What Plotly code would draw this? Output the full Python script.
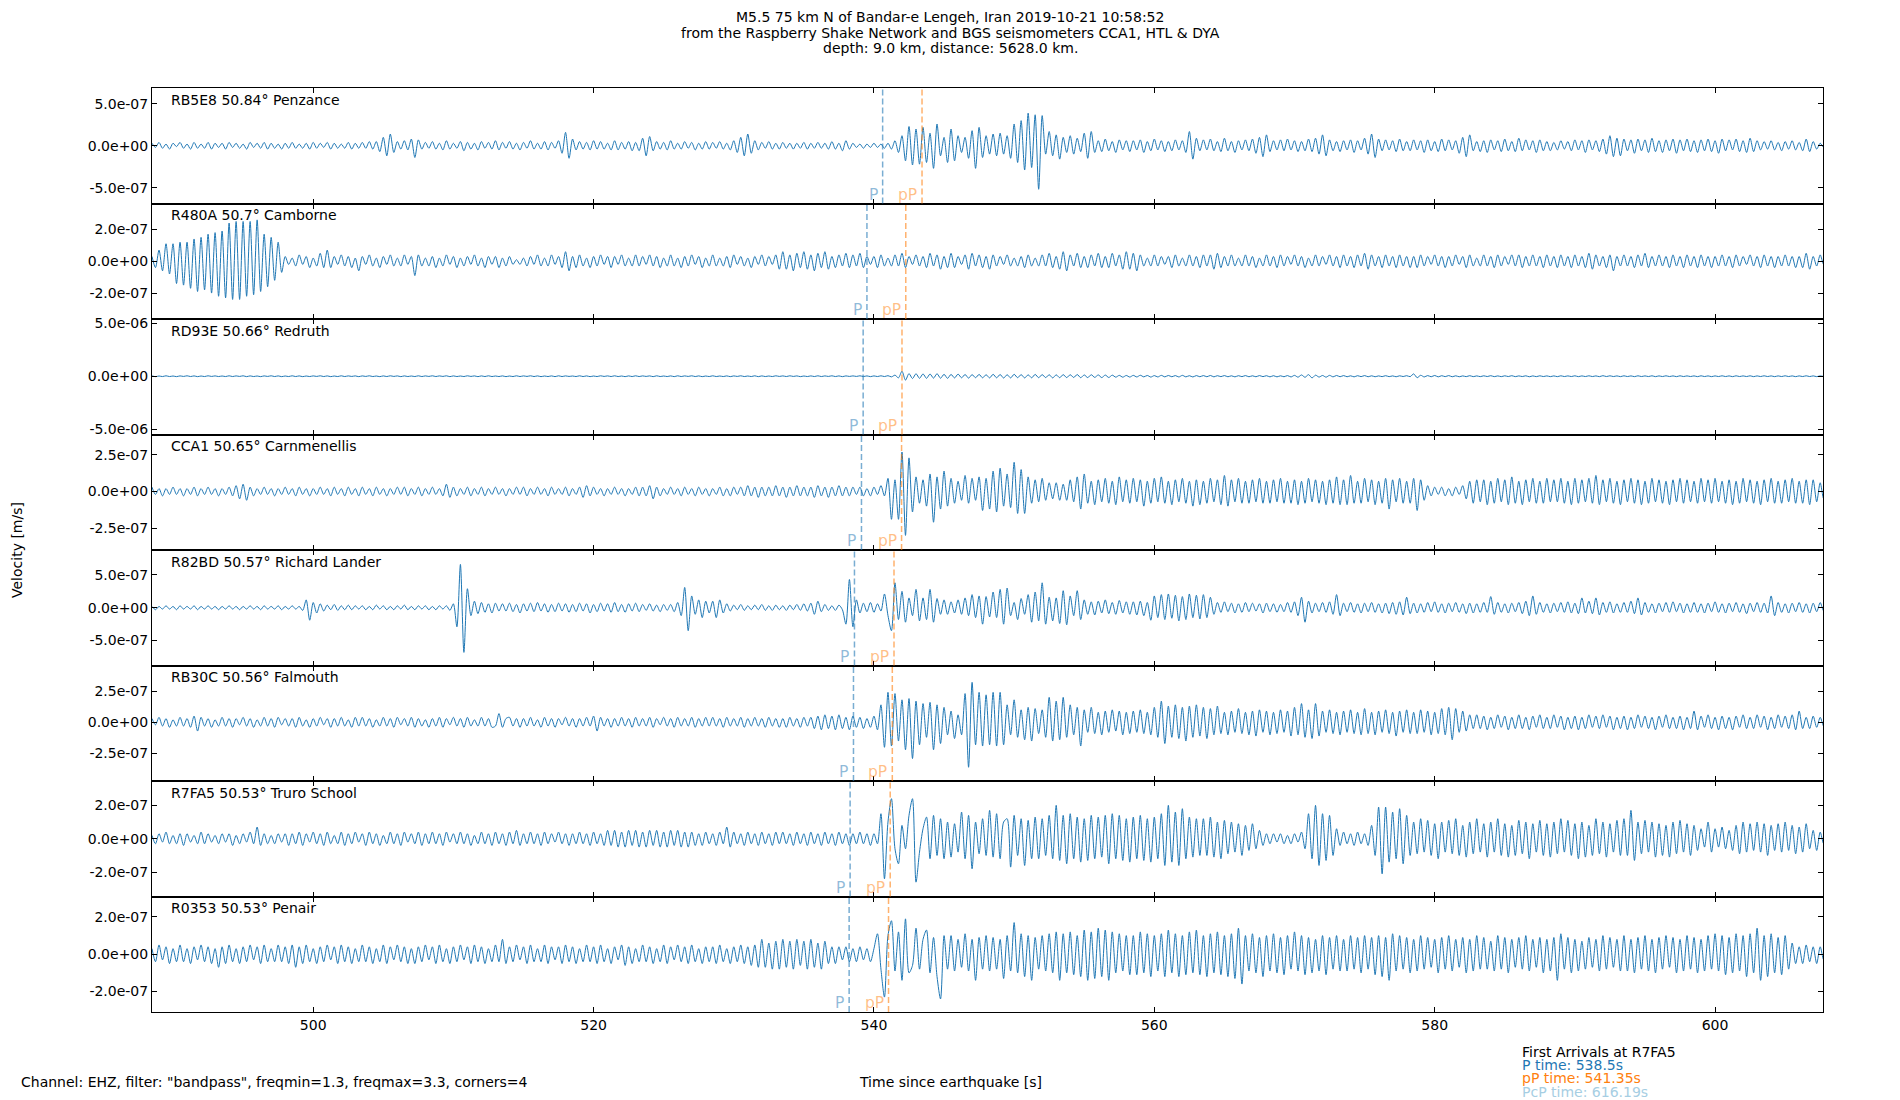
import numpy as np
import plotly.graph_objects as go
from plotly.subplots import make_subplots

# time axis of the traces, seconds since the earthquake
T0 = 488.5
DT = 0.25

stations = ['RB5E8', 'R480A', 'RD93E', 'CCA1', 'R82BD', 'RB30C', 'R7FA5', 'R0353']
distances = ['50.84', '50.7', '50.66', '50.65', '50.57', '50.56', '50.53', '50.53']
places = ['Penzance', 'Camborne', 'Redruth', 'Carnmenellis', 'Richard Lander',
          'Falmouth', 'Truro School', 'Penair']

# arrival times as drawn on each panel [s]
p_times = [540.62, 539.5, 539.23, 539.11, 538.61, 538.54, 538.3, 538.23]
pp_times = [543.43, 542.27, 542.0, 541.97, 541.43, 541.31, 541.16, 541.04]

# y limits and ticks [m/s]
y_limits = [(-6.9e-7, 6.9e-7), (-3.63e-7, 3.63e-7), (-5.5e-6, 5.4e-6), (-4.0e-7, 3.9e-7),
            (-8.8e-7, 8.8e-7), (-4.7e-7, 4.55e-7), (-3.46e-7, 3.46e-7), (-3.1e-7, 3.1e-7)]
y_ticks = [5e-7, 2e-7, 5e-6, 2.5e-7, 5e-7, 2.5e-7, 2e-7, 2e-7]

# velocity samples in units of 1e-8 m/s, one row = 5 s
rb5e8 = [
    3, -2, 4, -3, 2, -4, 3, -1, 4, -3, 2, -4, 4, -3, 2, -3, 4, -4, 3, -2,
    3, -4, 4, -2, 3, -3, 2, -4, 4, -2, 3, -3, 4, -4, 3, -3, 2, -4, 3, -3,
    4, -3, 2, -3, 3, -4, 4, -3, 3, -2, 4, -4, 3, -3, 2, -3, 4, -4, 3, -3,
    4, -3, 5, -4, 5, -7, 10, -12, 14, -8, 5, -4, 6, -5, 8, -14, 7, -4, 4, -3,
    5, -4, 3, -5, 6, -4, 3, -3, 5, -6, 4, -4, 3, -5, 5, -3, 4, -4, 6, -5,
    4, -3, 5, -4, 3, -5, 4, -3, 6, -4, 3, -4, 5, -5, 4, -3, 6, -9, 16, -15,
    8, -5, 5, -4, 4, -5, 6, -4, 5, -4, 3, -5, 6, -5, 4, -4, 5, -6, 4, -6,
    9, -12, 11, -6, 5, -4, 4, -5, 6, -4, 3, -4, 5, -3, 4, -5, 3, -4, 5, -4,
    4, -3, 5, -4, 3, -5, 6, -8, 10, -12, 14, -9, 6, -5, 4, -3, 5, -4, 3, -4,
    4, -3, 3, -4, 3, -3, 4, -4, 3, -3, 4, -3, 3, -4, 5, -4, 3, -6, 6, -4,
    3, -2, 2, -3, 2, -2, 3, -2, 2, -3, 3, -4, 6, -8, 12, -18, 23, -23, 20, -22,
    22, -20, 15, -27, 26, -12, 10, -20, 20, -18, 12, -8, 10, -15, 18, -27, 22, -14, 12, -10,
    14, -12, 15, -10, 12, -15, 26, -20, 30, -29, 39, -26, 37, -52, 36, -10, 17, -12, 13, -16,
    10, -8, 12, -10, 9, -7, 15, -15, 17, -8, 6, -7, 8, -6, 5, -8, 7, -5, 6, -7,
    6, -5, 7, -8, 5, -6, 8, -5, 6, -7, 5, -6, 7, -5, 6, -8, 17, -16, 9, -6,
    7, -5, 8, -6, 5, -7, 9, -6, 5, -8, 6, -5, 7, -6, 8, -9, 10, -13, 13, -7,
    6, -5, 7, -6, 8, -5, 6, -7, 5, -6, 8, -7, 9, -10, 13, -12, 7, -6, 5, -7,
    6, -5, 7, -8, 6, -5, 9, -10, 14, -14, 8, -6, 7, -5, 6, -7, 8, -6, 5, -6,
    7, -5, 6, -8, 7, -6, 5, -7, 8, -6, 7, -5, 6, -9, 10, -13, 13, -6, 5, -7,
    6, -8, 7, -5, 6, -7, 8, -6, 5, -7, 9, -6, 7, -5, 6, -8, 7, -6, 5, -6,
    4, -5, 6, -4, 5, -6, 7, -5, 6, -8, 7, -5, 6, -7, 8, -10, 12, -13, 9, -12,
    8, -6, 7, -9, 8, -6, 7, -8, 9, -7, 6, -8, 7, -6, 8, -9, 7, -6, 8, -7,
    6, -8, 7, -6, 8, -7, 6, -9, 8, -6, 7, -5, 8, -7, 6, -8, 9, -7, 6, -5,
    5, -4, 6, -5, 4, -6, 5, -4, 6, -5, 4, -6, 8, -7, 5, -4, 3, -2, 2, 0,
]
r480a = [
    3, -4, 7, -6, 11, -8, 11, -14, 12, -15, 12, -17, 14, -19, 15, -18, 17, -20, 18, -22,
    19, -23, 24, -24, 25, -24, 25, -22, 25, -21, 26, -19, 17, -16, 15, -12, 12, -7, 3, -2,
    2, -3, 4, -2, 3, -4, 2, -3, 5, -4, 7, -4, 3, -2, 4, -3, 3, -4, 2, -6,
    3, -2, 4, -3, 2, -4, 3, -2, 4, -3, 2, -3, 4, -2, 3, -9, 4, -3, 2, -3,
    3, -4, 2, -3, 4, -2, 3, -4, 2, -3, 3, -2, 4, -3, 2, -4, 3, -2, 3, -4,
    2, -3, 3, -2, 1, -2, 2, -3, 3, -2, 4, -3, 2, -3, 4, -2, 3, -4, 6, -6,
    3, -4, 4, -3, 2, -4, 3, -3, 4, -2, 3, -4, 3, -2, 4, -3, 2, -3, 4, -3,
    3, -2, 4, -3, 3, -4, 2, -3, 4, -3, 2, -4, 3, -3, 4, -2, 3, -4, 2, -3,
    4, -3, 2, -3, 3, -4, 4, -2, 3, -3, 2, -4, 3, -2, 4, -3, 3, -2, 4, -5,
    6, -5, 4, -6, 5, -4, 6, -5, 4, -6, 5, -4, 6, -5, 3, -4, 4, -3, 5, -4,
    4, -3, 5, -4, 3, -2, 3, -4, 4, -3, 2, -3, 4, -3, 5, -4, 3, -2, 4, -3,
    3, -4, 5, -3, 4, -5, 3, -4, 5, -4, 3, -2, 4, -5, 5, -3, 4, -4, 3, -5,
    4, -3, 3, -2, 4, -3, 2, -3, 3, -4, 4, -3, 2, -3, 4, -3, 5, -4, 3, -5,
    6, -6, 4, -3, 5, -4, 3, -4, 4, -3, 5, -4, 3, -4, 5, -3, 4, -5, 6, -5,
    5, -6, 4, -3, 2, -3, 4, -3, 3, -2, 3, -4, 4, -3, 2, -3, 4, -3, 3, -4,
    4, -3, 4, -5, 5, -4, 3, -3, 4, -3, 2, -3, 4, -3, 3, -4, 2, -3, 4, -3,
    3, -4, 4, -3, 3, -2, 4, -3, 3, -4, 2, -3, 4, -3, 3, -2, 4, -3, 3, -4,
    4, -3, 3, -4, 4, -3, 5, -5, 4, -3, 3, -4, 4, -3, 3, -4, 4, -3, 3, -4,
    3, -4, 4, -3, 3, -2, 4, -3, 3, -4, 3, -3, 4, -2, 3, -4, 4, -3, 2, -3,
    4, -3, 3, -4, 4, -3, 3, -2, 4, -3, 4, -4, 3, -3, 4, -3, 3, -4, 4, -3,
    3, -4, 4, -3, 3, -4, 4, -3, 3, -4, 5, -5, 4, -3, 3, -4, 4, -6, 3, -3,
    4, -3, 3, -4, 4, -3, 5, -4, 3, -3, 4, -3, 3, -4, 4, -3, 3, -4, 4, -3,
    3, -4, 4, -3, 3, -4, 3, -3, 4, -3, 3, -4, 4, -3, 3, -2, 4, -3, 3, -4,
    4, -3, 3, -4, 3, -3, 4, -3, 3, -4, 3, -4, 5, -5, 3, -3, 4, -2, 2, 0,
]
rd93e = [
    3, -4, 2, -3, 4, -3, 2, -4, 3, -2, 4, -3, 3, -4, 2, -3, 4, -2, 3, -3,
    2, -3, 4, -3, 3, -2, 4, -4, 3, -3, 2, -4, 3, -2, 4, -3, 3, -4, 2, -3,
    4, -3, 3, -4, 2, -3, 3, -2, 4, -3, 3, -4, 2, -3, 4, -3, 3, -2, 3, -4,
    3, -2, 4, -3, 2, -4, 3, -3, 4, -2, 3, -4, 3, -3, 2, -3, 4, -3, 3, -2,
    4, -3, 3, -2, 4, -4, 3, -3, 2, -3, 4, -2, 3, -4, 3, -3, 4, -3, 2, -3,
    3, -4, 2, -3, 4, -3, 3, -2, 4, -3, 3, -4, 2, -3, 3, -4, 4, -3, 3, -2,
    2, -3, 4, -3, 3, -4, 2, -3, 4, -2, 3, -3, 4, -3, 2, -4, 3, -3, 4, -3,
    3, -2, 3, -4, 4, -3, 2, -3, 3, -4, 4, -3, 3, -2, 4, -3, 3, -4, 2, -3,
    4, -3, 2, -3, 3, -4, 3, -2, 4, -3, 2, -3, 4, -4, 3, -3, 2, -3, 4, -2,
    3, -3, 4, -2, 3, -4, 2, -3, 3, -3, 4, -3, 3, -2, 4, -3, 3, -4, 3, -2,
    3, -2, 4, -3, 3, -4, 3, -3, 4, -3, 5, -6, 10, -15, 47, -37, 25, -22, 24, -20,
    22, -20, 21, -18, 24, -19, 18, -20, 17, -16, 20, -15, 16, -18, 15, -14, 17, -15, 14, -16,
    18, -15, 16, -17, 14, -16, 18, -14, 15, -16, 13, -15, 17, -14, 15, -13, 14, -16, 13, -14,
    15, -13, 14, -12, 16, -14, 12, -13, 14, -11, 12, -13, 11, -12, 10, -9, 8, -9, 7, -8,
    8, -7, 9, -6, 7, -8, 6, -7, 8, -6, 7, -5, 6, -7, 8, -6, 5, -7, 6, -5,
    6, -5, 7, -6, 5, -4, 6, -5, 4, -6, 5, -4, 6, -5, 4, -5, 6, -4, 5, -6,
    5, -6, 4, -5, 6, -7, 8, -9, 12, -10, 15, -16, 10, -8, 7, -9, 8, -6, 7, -5,
    6, -5, 4, -6, 5, -4, 6, -5, 4, -5, 3, -4, 5, -4, 3, -5, 4, -3, 5, -4,
    22, -14, 9, -7, 6, -5, 7, -6, 5, -4, 6, -5, 4, -5, 3, -4, 5, -4, 3, -4,
    4, -3, 5, -4, 3, -4, 4, -3, 5, -4, 3, -3, 4, -5, 3, -4, 4, -3, 3, -4,
    3, -4, 4, -3, 3, -3, 4, -4, 3, -3, 4, -3, 3, -4, 5, -3, 4, -3, 3, -4,
    4, -3, 3, -4, 4, -3, 3, -3, 4, -4, 3, -3, 4, -3, 3, -4, 4, -3, 3, -3,
    3, -4, 4, -3, 3, -4, 3, -3, 4, -3, 3, -4, 4, -3, 3, -3, 4, -4, 3, -3,
    4, -3, 3, -4, 3, -3, 4, -3, 3, -4, 3, -3, 4, -3, 3, -4, 3, -2, 2, 0,
]
cca1 = [
    3, -2, 2, -3, 2, -2, 3, -2, 2, -3, 2, -2, 3, -3, 2, -2, 3, -2, 2, -3,
    2, -2, 3, -3, 4, -5, 5, -6, 3, -3, 2, -2, 3, -2, 2, -3, 2, -2, 3, -2,
    2, -3, 3, -2, 2, -3, 2, -2, 3, -2, 2, -3, 3, -2, 2, -3, 3, -2, 2, -3,
    3, -2, 2, -3, 3, -2, 2, -3, 2, -2, 3, -2, 3, -3, 2, -2, 3, -3, 2, -2,
    3, -2, 2, -3, 5, -4, 3, -3, 2, -2, 3, -3, 2, -2, 3, -3, 2, -2, 3, -2,
    2, -3, 2, -2, 3, -2, 3, -3, 2, -2, 3, -2, 2, -3, 3, -2, 2, -2, 3, -3,
    2, -2, 3, -4, 4, -3, 3, -2, 2, -3, 2, -2, 3, -2, 2, -3, 2, -2, 3, -3,
    3, -3, 4, -5, 3, -3, 2, -2, 3, -2, 2, -3, 3, -2, 2, -3, 3, -2, 2, -3,
    2, -2, 3, -3, 2, -3, 3, -2, 3, -3, 4, -3, 3, -4, 3, -3, 3, -3, 4, -3,
    3, -4, 3, -3, 4, -3, 3, -3, 3, -4, 4, -3, 3, -4, 3, -3, 4, -3, 3, -3,
    3, -2, 3, -3, 2, -3, 3, -2, 4, -3, 9, -19, 8, -19, 27, -30, 23, -14, 10, -8,
    8, -10, 12, -21, 10, -12, 14, -10, 9, -8, 7, -6, 11, -8, 9, -6, 10, -13, 9, -12,
    14, -14, 16, -10, 12, -11, 20, -15, 15, -15, 10, -8, 8, -7, 9, -6, 6, -5, 6, -6,
    5, -6, 8, -7, 10, -12, 12, -8, 7, -9, 8, -7, 9, -8, 7, -9, 10, -7, 8, -8,
    9, -7, 8, -10, 7, -8, 9, -7, 10, -8, 7, -9, 8, -7, 9, -8, 7, -10, 8, -9,
    7, -8, 9, -7, 8, -9, 11, -10, 8, -7, 9, -8, 7, -8, 8, -7, 9, -8, 7, -8,
    8, -7, 9, -8, 7, -8, 8, -9, 7, -8, 9, -7, 8, -8, 7, -9, 8, -8, 10, -9,
    8, -9, 11, -8, 7, -8, 9, -7, 8, -9, 7, -8, 9, -12, 8, -7, 9, -8, 7, -8,
    9, -13, 8, -6, 4, -3, 3, -2, 3, -3, 2, -3, 3, -2, 4, -5, 7, -8, 8, -7,
    8, -9, 7, -8, 9, -7, 8, -9, 10, -8, 7, -9, 8, -7, 9, -8, 7, -8, 9, -7,
    8, -7, 9, -8, 7, -9, 9, -8, 8, -7, 9, -8, 11, -9, 8, -7, 9, -8, 7, -9,
    8, -7, 9, -8, 8, -9, 7, -8, 9, -7, 8, -8, 7, -9, 8, -7, 9, -8, 8, -7,
    7, -8, 9, -7, 8, -8, 9, -7, 7, -8, 8, -9, 7, -8, 9, -7, 8, -8, 7, -9,
    8, -7, 9, -8, 7, -8, 8, -7, 9, -8, 7, -8, 8, -9, 8, -7, 6, -5, 3, 0,
]
r82bd = [
    2, -3, 2, -2, 3, -2, 2, -3, 3, -2, 2, -2, 3, -3, 2, -2, 3, -2, 2, -3,
    2, -2, 3, -2, 2, -3, 2, -2, 3, -2, 2, -3, 3, -2, 2, -2, 3, -3, 2, -2,
    3, -2, 2, -4, 12, -19, 8, -8, 6, -5, 4, -3, 5, -4, 3, -3, 4, -3, 3, -2,
    3, -3, 2, -3, 4, -2, 3, -3, 2, -3, 3, -2, 4, -3, 2, -3, 3, -2, 3, -3,
    2, -3, 3, -2, 3, -4, 6, -29, 66, -68, 29, -12, 10, -9, 8, -7, 6, -8, 7, -5,
    6, -5, 7, -6, 5, -8, 6, -5, 7, -6, 8, -5, 6, -7, 5, -6, 7, -5, 6, -7,
    5, -6, 7, -5, 6, -8, 5, -6, 7, -5, 6, -7, 8, -6, 5, -7, 6, -5, 7, -6,
    5, -4, 6, -5, 4, -6, 5, -4, 5, -6, 8, -12, 31, -35, 18, -10, 12, -15, 10, -8,
    10, -15, 12, -8, 6, -5, 4, -3, 5, -4, 3, -3, 4, -3, 5, -4, 3, -4, 4, -3,
    3, -4, 4, -3, 5, -4, 6, -5, 7, -10, 10, -6, 5, -4, 3, -4, 4, -3, -25, 43,
    -29, 12, -8, 7, -6, 8, -7, 6, -5, 21, -12, -35, 38, -18, 25, -22, 15, -12, 28, -20,
    15, -18, 28, -22, 14, -10, 12, -10, 9, -8, 12, -10, 15, -12, 20, -15, 18, -25, 17, -14,
    24, -15, 28, -25, 30, -12, 8, -18, 14, -10, 20, -22, 24, -20, 38, -25, 16, -20, 15, -24,
    26, -26, 18, -12, 26, -18, 12, -10, 9, -11, 10, -8, 12, -9, 8, -10, 11, -8, 9, -10,
    9, -11, 10, -12, 8, -19, 18, -15, 20, -18, 21, -16, 19, -20, 17, -18, 21, -15, 19, -17,
    20, -15, 16, -10, 8, -7, 9, -6, 7, -8, 6, -7, 8, -6, 7, -5, 6, -8, 7, -6,
    6, -7, 5, -6, 8, -7, 9, -12, 16, -22, 10, -8, 7, -6, 8, -7, 9, -10, 20, -12,
    7, -6, 8, -7, 6, -8, 7, -6, 8, -7, 6, -8, 7, -9, 8, -10, 9, -11, 16, -9,
    7, -8, 6, -7, 8, -6, 9, -7, 6, -8, 7, -6, 8, -7, 6, -9, 7, -8, 6, -7,
    8, -7, 17, -10, 8, -7, 6, -8, 7, -6, 8, -9, 10, -12, 18, -10, 8, -7, 6, -8,
    7, -6, 8, -7, 9, -8, 7, -9, 15, -8, 10, -9, 15, -11, 8, -7, 9, -8, 6, -7,
    8, -7, 10, -9, 15, -11, 8, -7, 6, -8, 7, -6, 8, -7, 9, -6, 7, -8, 6, -7,
    8, -7, 6, -8, 7, -6, 9, -7, 6, -8, 7, -6, 8, -7, 6, -9, 7, -6, 8, -7,
    7, -8, 18, -12, 8, -7, 6, -8, 7, -6, 8, -7, 6, -8, 7, -6, 8, -5, 3, 0,
]
rb30c = [
    3, -2, 4, -3, 3, -4, 2, -3, 4, -3, 3, -4, 5, -7, 4, -3, 3, -4, 2, -3,
    4, -3, 3, -4, 3, -2, 4, -3, 3, -4, 2, -3, 4, -3, 3, -4, 4, -2, 3, -3,
    3, -4, 4, -3, 2, -4, 3, -3, 4, -2, 3, -4, 3, -3, 4, -3, 2, -4, 4, -3,
    4, -3, 3, -4, 2, -3, 4, -3, 3, -4, 4, -2, 3, -3, 4, -4, 3, -3, 2, -4,
    3, -3, 4, -4, 3, -2, 4, -3, 3, -4, 4, -3, 2, -3, 4, -3, 3, -4, -3, 7,
    -4, 3, 4, -3, 3, -4, 3, -3, 4, -3, 2, -4, 4, -3, 3, -4, 3, -2, 4, -3,
    3, -4, 3, -3, 4, -3, 5, -7, 4, -3, 3, -4, 3, -3, 4, -3, 3, -4, 4, -3,
    3, -3, 4, -4, 3, -2, 4, -3, 3, -4, 4, -3, 3, -3, 4, -4, 3, -3, 4, -3,
    4, -3, 3, -4, 4, -3, 3, -3, 4, -4, 3, -3, 4, -3, 3, -4, 4, -3, 3, -4,
    3, -4, 4, -3, 3, -4, 4, -3, 4, -5, 5, -6, 6, -5, 5, -6, 6, -5, 4, -6,
    5, -4, 4, -5, 3, -4, 5, -6, 14, -20, 24, -19, 23, -15, 18, -22, 19, -29, 17, -18,
    15, -12, 16, -22, 14, -17, 12, -10, 9, -13, 6, -10, 23, -36, 32, -18, 24, -19, 22, -18,
    24, -19, 24, -18, 14, -10, 18, -12, 10, -14, 12, -15, 11, -9, 10, -12, 20, -15, 17, -14,
    20, -12, 14, -10, 12, -19, 10, -8, 12, -9, 8, -10, 9, -8, 10, -7, 9, -10, 8, -9,
    9, -8, 10, -9, 8, -10, 12, -12, 17, -17, 13, -12, 14, -13, 12, -15, 13, -12, 14, -11,
    12, -13, 11, -10, 13, -9, 8, -10, 9, -8, 11, -9, 8, -10, 9, -11, 10, -8, 9, -10,
    8, -9, 10, -8, 9, -11, 12, -10, 15, -12, 10, -13, 15, -11, 9, -8, 10, -9, 8, -10,
    9, -8, 10, -9, 8, -10, 11, -9, 8, -10, 9, -8, 10, -9, 8, -11, 9, -8, 10, -9,
    8, -9, 10, -8, 9, -10, 8, -9, 11, -10, 12, -14, 11, -8, 9, -7, 6, -5, 6, -5,
    5, -6, 4, -5, 6, -4, 5, -6, 4, -5, 6, -5, 4, -6, 5, -4, 6, -5, 4, -5,
    6, -4, 5, -6, 4, -5, 5, -6, 4, -5, 6, -4, 5, -5, 6, -4, 5, -6, 4, -5,
    5, -6, 4, -5, 6, -4, 5, -5, 4, -6, 5, -4, 6, -5, 4, -5, 5, -6, 4, -5,
    9, -6, 5, -4, 6, -5, 4, -6, 5, -5, 4, -6, 5, -4, 6, -5, 4, -5, 6, -4,
    5, -6, 4, -5, 6, -4, 5, -5, 6, -6, 9, -5, 4, -5, 5, -4, 4, -3, 2, 0,
]
r7fa5 = [
    2, -3, 3, -2, 4, -3, 2, -3, 3, -4, 3, -2, 2, -3, 4, -3, 3, -2, 2, -3,
    3, -2, 3, -4, 2, -3, 3, -2, 4, -3, 7, -4, 3, -3, 2, -3, 3, -2, 3, -4,
    3, -3, 4, -4, 3, -2, 4, -3, 3, -4, 4, -3, 2, -3, 4, -4, 3, -3, 4, -2,
    3, -4, 4, -3, 3, -4, 2, -3, 4, -3, 3, -4, 4, -2, 3, -3, 4, -4, 3, -3,
    4, -3, 3, -4, 4, -2, 3, -3, 4, -3, 3, -4, 2, -3, 4, -3, 3, -4, 4, -3,
    3, -4, 4, -3, 5, -4, 3, -3, 4, -3, 3, -4, 4, -3, 3, -2, 4, -3, 3, -4,
    3, -3, 4, -3, 3, -4, 4, -3, 3, -4, 5, -4, 5, -5, 4, -5, 5, -4, 5, -5,
    4, -5, 5, -4, 5, -5, 4, -5, 5, -4, 5, -5, 4, -5, 4, -4, 3, -4, 4, -3,
    3, -4, 4, -3, 7, -5, 4, -3, 3, -4, 4, -3, 3, -4, 4, -3, 3, -4, 4, -3,
    4, -3, 3, -4, 4, -3, 3, -4, 4, -3, 3, -4, 4, -3, 3, -4, 4, -3, 3, -4,
    3, -3, 4, -3, 3, -4, 3, -3, 15, -24, 10, 24, -6, -15, 8, -6, 14, 24, -26, -8,
    6, 13, -12, 14, -10, 12, -12, 10, -11, 9, -8, 16, -12, 14, -18, 10, -9, 12, -10, 17,
    -11, 15, -12, 10, 12, -17, 14, -10, 12, -16, 11, -12, 13, -12, 12, -10, 14, -12, 20, -13,
    14, -15, 15, -12, 13, -14, 12, -13, 14, -12, 13, -11, 14, -15, 15, -12, 14, -13, 12, -14,
    13, -12, 14, -13, 12, -14, 13, -12, 15, -16, 20, -14, 16, -16, 18, -12, 13, -11, 12, -10,
    12, -10, 13, -11, 10, -12, 11, -9, 10, -8, 9, -10, 8, -7, 9, -6, 5, -4, 3, -3,
    3, -2, 3, -3, 2, -3, 3, -2, 4, -6, 15, -12, 20, -16, 15, -13, 14, -10, 6, -4,
    4, -3, 3, -4, 4, -3, 3, -4, 8, -10, 19, -21, 19, -14, 16, -12, 18, -15, 14, -10,
    10, -9, 12, -8, 11, -10, 9, -12, 10, -8, 11, -9, 12, -10, 8, -11, 10, -9, 12, -8,
    9, -11, 10, -8, 12, -10, 9, -11, 8, -10, 11, -9, 10, -12, 9, -8, 11, -10, 9, -11,
    10, -9, 12, -8, 11, -10, 9, -12, 10, -11, 8, -10, 12, -9, 10, -11, 9, -8, 11, -10,
    12, -10, 17, -13, 10, -9, 11, -8, 10, -11, 9, -10, 8, -11, 10, -9, 11, -8, 9, -10,
    8, -7, 6, -5, 10, -8, 6, -5, 7, -6, 5, -7, 8, -9, 10, -8, 9, -7, 10, -8,
    9, -10, 8, -7, 9, -8, 10, -7, 8, -9, 7, -8, 9, -6, 5, -7, 4, -3, 2, 0,
]
r0353 = [
    3, -4, 5, -3, 4, -5, 3, -4, 5, -4, 3, -5, 4, -3, 5, -4, 4, -5, 3, -7,
    4, -5, 5, -4, 3, -5, 4, -4, 5, -3, 4, -5, 5, -4, 3, -4, 5, -4, 4, -5,
    5, -7, 4, -5, 5, -4, 3, -5, 4, -4, 5, -3, 4, -5, 5, -4, 4, -5, 3, -4,
    5, -4, 4, -5, 3, -4, 5, -5, 4, -3, 5, -4, 4, -5, 3, -5, 4, -4, 5, -3,
    4, -5, 5, -4, 3, -5, 4, -4, 5, -3, 4, -5, 5, -4, 4, -5, 3, -4, 5, -4,
    8, -5, 4, -4, 5, -3, 4, -5, 5, -4, 3, -4, 5, -5, 4, -3, 4, -5, 5, -4,
    4, -5, 3, -4, 5, -4, 4, -5, 5, -4, 3, -5, 4, -3, 5, -6, 4, -5, 3, -4,
    5, -4, 4, -5, 3, -4, 5, -5, 4, -3, 5, -4, 4, -5, 5, -4, 3, -5, 4, -4,
    4, -5, 5, -4, 3, -5, 4, -4, 5, -5, 4, -6, 5, -7, 8, -7, 6, -8, 7, -8,
    8, -7, 7, -8, 8, -6, 7, -8, 8, -7, 6, -8, 7, -5, 4, -5, 4, -3, 4, -4,
    3, -4, 4, -3, 3, -4, 3, 11, -8, -23, 10, 18, -9, 12, -14, 19, -10, -6, 14, -8,
    8, 13, -10, 9, -12, -24, 10, -8, 10, -9, 8, -7, 11, -9, 8, -14, 9, -8, 10, -9,
    9, -8, 8, -13, 10, -9, 17, -10, 11, -12, 10, -14, 9, -8, 10, -9, 11, -10, 12, -14,
    11, -10, 12, -11, 10, -12, 13, -14, 12, -13, 14, -12, 13, -14, 12, -10, 11, -9, 10, -11,
    10, -11, 12, -10, 11, -12, 10, -9, 11, -12, 13, -10, 11, -12, 10, -11, 12, -10, 13, -11,
    10, -12, 11, -10, 12, -11, 10, -12, 11, -13, 14, -16, 10, -9, 11, -10, 9, -12, 10, -9,
    11, -10, 9, -11, 10, -8, 12, -9, 10, -11, 9, -10, 8, -9, 10, -11, 9, -8, 10, -9,
    8, -9, 10, -8, 9, -10, 10, -8, 9, -11, 10, -12, 9, -14, 11, -9, 10, -8, 9, -10,
    8, -9, 10, -8, 9, -7, 8, -10, 9, -8, 10, -9, 8, -7, 9, -10, 8, -9, 10, -8,
    9, -8, 7, -9, 10, -8, 9, -10, 8, -7, 9, -8, 10, -9, 8, -7, 9, -10, 8, -9,
    9, -14, 11, -8, 9, -10, 8, -9, 7, -8, 9, -7, 8, -9, 10, -8, 9, -7, 8, -9,
    10, -9, 8, -10, 9, -8, 10, -9, 8, -10, 9, -8, 10, -7, 9, -10, 8, -9, 10, -8,
    9, -10, 8, -9, 10, -8, 11, -9, 10, -11, 9, -10, 11, -9, 10, -12, 11, -10, 14, -14,
    10, -12, 11, -10, 9, -11, 10, -8, 6, -5, 4, -5, 5, -4, 4, -5, 4, -3, 2, 0,
]
traces = [rb5e8, r480a, rd93e, cca1, r82bd, rb30c, r7fa5, r0353]

FONT = 'DejaVu Sans'
BLUE = '#1f77b4'
ORANGE = '#ff7f0e'

fig = make_subplots(rows=8, cols=1, shared_xaxes=True, vertical_spacing=0)

for i, vals in enumerate(traces):
    row = i + 1
    t = T0 + DT * np.arange(len(vals))
    fig.add_trace(go.Scatter(x=t, y=np.array(vals) * 1e-8, mode='lines',
                             line=dict(color=BLUE, width=1, shape='spline', smoothing=0.8),
                             showlegend=False, hoverinfo='skip'),
                  row=row, col=1)

    tk = y_ticks[i]
    fig.update_yaxes(range=list(y_limits[i]), tickvals=[-tk, 0, tk],
                     ticktext=[f'{v:.1e}' for v in (-tk, 0.0, tk)], row=row, col=1)

    xref = 'x' if row == 1 else f'x{row}'
    yref = 'y' if row == 1 else f'y{row}'
    fig.add_shape(type='line', x0=p_times[i], x1=p_times[i], y0=0, y1=1,
                  xref=xref, yref=yref + ' domain',
                  line=dict(color='rgba(31,119,180,0.6)', width=1.5, dash='6px,3px'))
    fig.add_shape(type='line', x0=pp_times[i], x1=pp_times[i], y0=0, y1=1,
                  xref=xref, yref=yref + ' domain',
                  line=dict(color='rgba(255,127,14,0.6)', width=1.5, dash='6px,3px'))

    fig.add_annotation(x=0.0099, y=0.9, xref=xref + ' domain', yref=yref + ' domain',
                       text=f'{stations[i]} {distances[i]}° {places[i]}', showarrow=False,
                       xanchor='left', yanchor='middle', font=dict(size=14, color='black'))
    fig.add_annotation(x=p_times[i], y=0.074, xref=xref, yref=yref + ' domain', text='P',
                       showarrow=False, xanchor='right', yanchor='middle', xshift=-3,
                       font=dict(size=15.5, color='rgba(31,119,180,0.5)'))
    fig.add_annotation(x=pp_times[i], y=0.074, xref=xref, yref=yref + ' domain', text='pP',
                       showarrow=False, xanchor='right', yanchor='middle', xshift=-3,
                       font=dict(size=15.5, color='rgba(255,127,14,0.5)'))

fig.update_xaxes(range=[488.5, 607.7], tick0=0, dtick=20, ticks='inside', ticklen=5,
                 tickcolor='black', showline=True, linecolor='black', linewidth=1,
                 mirror='ticks', showgrid=False, zeroline=False,
                 tickfont=dict(size=14, color='black'))
fig.update_yaxes(ticks='inside', ticklen=5, tickcolor='black', showline=True,
                 linecolor='black', linewidth=1, mirror='ticks', showgrid=False,
                 zeroline=False, tickfont=dict(size=14, color='black'))

# title, axis labels and the arrival notes
title_lines = ['M5.5 75 km N of Bandar-e Lengeh, Iran 2019-10-21 10:58:52',
               'from the Raspberry Shake Network and BGS seismometers CCA1, HTL & DYA',
               'depth: 9.0 km, distance: 5628.0 km.']
for line, y in zip(title_lines, [1.0768, 1.0595, 1.0433]):
    fig.add_annotation(x=0.4776, y=y, xref='paper', yref='paper', text=line, showarrow=False,
                       xanchor='center', yanchor='middle', font=dict(size=14, color='black'))

fig.add_annotation(x=-0.0808, y=0.5, xref='paper', yref='paper', text='Velocity [m/s]',
                   textangle=-90, showarrow=False, xanchor='center', yanchor='middle',
                   font=dict(size=14, color='black'))
fig.add_annotation(x=0.4776, y=-0.0758, xref='paper', yref='paper',
                   text='Time since earthquake [s]', showarrow=False, xanchor='center',
                   yanchor='middle', font=dict(size=14, color='black'))
fig.add_annotation(x=-0.0796, y=-0.0758, xref='paper', yref='paper',
                   text='Channel: EHZ, filter: "bandpass", freqmin=1.3, freqmax=3.3, corners=4',
                   showarrow=False, xanchor='left', yanchor='middle',
                   font=dict(size=14, color='black'))

arrival_notes = ['First Arrivals at R7FA5', 'P time: 538.5s', 'pP time: 541.35s',
                 'PcP time: 616.19s']
note_colors = ['black', BLUE, ORANGE, '#a6cee3']
for note, color, y in zip(arrival_notes, note_colors, [-0.0433, -0.0574, -0.0714, -0.0866]):
    fig.add_annotation(x=0.8187, y=y, xref='paper', yref='paper', text=note, showarrow=False,
                       xanchor='left', yanchor='middle', font=dict(size=14, color=color))

# the page adds an 8px body margin, so the plot area is pulled up and left by that much
fig.update_layout(width=1900, height=1100, margin=dict(l=144, r=85, t=80, b=96),
                  plot_bgcolor='white', paper_bgcolor='white',
                  font=dict(family=FONT, size=14, color='black'))

fig.write_html("out.html")
